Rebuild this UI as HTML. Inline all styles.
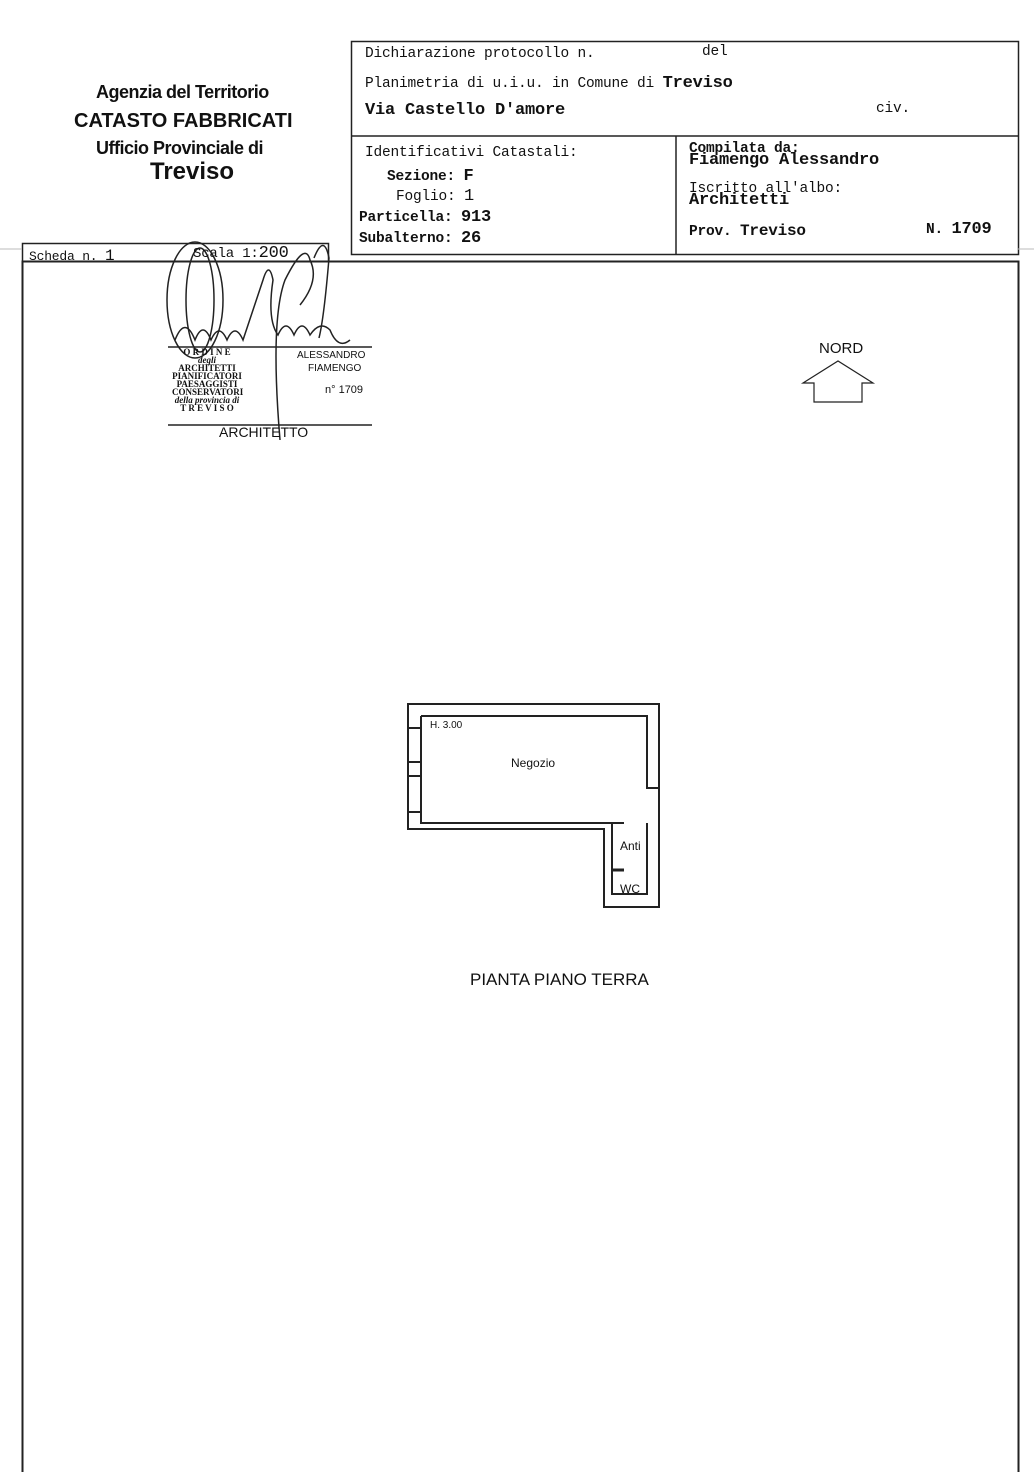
<!DOCTYPE html>
<html><head><meta charset="utf-8"><style>
body{margin:0;width:1034px;height:1472px;background:#fff;position:relative;overflow:hidden;font-family:"Liberation Sans",sans-serif;color:#111}
.m{font-family:"Liberation Mono",monospace;position:absolute;white-space:nowrap;font-size:14.5px;letter-spacing:-0.2px}
.s{position:absolute;white-space:nowrap}
</style></head><body>
<svg width="1034" height="1472" style="position:absolute;left:0;top:0">
<g fill="none" stroke="#222">
<rect x="351.5" y="41.5" width="667" height="213" stroke-width="1.5"/>
<line x1="351" y1="136" x2="1018" y2="136" stroke-width="1.5"/>
<line x1="676" y1="136" x2="676" y2="254" stroke-width="1.5"/>
<rect x="22.5" y="243.5" width="306" height="18" stroke-width="1.5"/>
<rect x="22.5" y="261.5" width="996" height="1220" stroke-width="2"/>
<line x1="0" y1="249" x2="22" y2="249" stroke="#bbb"/>
<line x1="1018" y1="249" x2="1034" y2="249" stroke="#bbb"/>
<polygon points="803,383 838,361 873,383 862,383 862,402 814,402 814,383" stroke-width="1.2"/>
<g stroke-width="1.5">
<ellipse cx="195" cy="300" rx="28" ry="58"/>
<ellipse cx="200" cy="300" rx="14" ry="52"/>
<path d="M175 340 q10-25 20 0 q8-20 16 0 q8-18 16 0 q8-18 16 0 q10-30 20-60 q6-20 10 0 q-6 40 5 55 q8-18 16 0 q8-18 16 0 q10-15 20-5 q8 20 20 10"/>
<path d="M280 440 q-10-120 5-160 q20-40 25-20 q10 20-10 45"/>
<path d="M314 258 q10-25 15 0 q-5 60-10 80"/>
</g>
<line x1="168" y1="347" x2="372" y2="347" stroke-width="1.5"/>
<line x1="168" y1="425" x2="372" y2="425" stroke-width="1.5"/>
<g stroke-width="2">
<path d="M408 704 H659 V907 H604 V829 H408 Z"/>
<path d="M421 716 H647 V788 H658"/>
<path d="M421 716 V823 H624"/>
<path d="M612 823 V894 H647 V823"/>
<line x1="612" y1="870" x2="624" y2="870" stroke-width="3"/>
<line x1="408" y1="728" x2="421" y2="728"/>
<line x1="408" y1="762" x2="421" y2="762"/>
<line x1="408" y1="776" x2="421" y2="776"/>
<line x1="408" y1="812" x2="421" y2="812"/>
</g>
</g>
</svg>
<div class="s" style="left:96px;top:82px;font-size:18px;font-weight:bold;letter-spacing:-0.5px">Agenzia del Territorio</div>
<div class="s" style="left:74px;top:110px;font-size:20px;font-weight:bold">CATASTO FABBRICATI</div>
<div class="s" style="left:96px;top:138px;font-size:18px;font-weight:bold;letter-spacing:-0.5px">Ufficio Provinciale di</div>
<div class="s" style="left:150px;top:158px;font-size:24px;font-weight:bold">Treviso</div>
<div class="m" style="left:365px;top:46px">Dichiarazione protocollo n.</div>
<div class="m" style="left:702px;top:44px">del</div>
<div class="m" style="left:365px;top:74px">Planimetria di u.i.u. in Comune di <b style="font-size:17px">Treviso</b></div>
<div class="m" style="left:365px;top:101px;font-size:17px;font-weight:bold">Via Castello D'amore</div>
<div class="m" style="left:876px;top:101px">civ.</div>
<div class="m" style="left:365px;top:145px">Identificativi Catastali:</div>
<div class="m" style="left:387px;top:167px;font-weight:bold">Sezione: <span style="font-size:17px">F</span></div>
<div class="m" style="left:396px;top:187px">Foglio: <span style="font-size:17px">1</span></div>
<div class="m" style="left:359px;top:208px;font-weight:bold">Particella: <span style="font-size:17px">913</span></div>
<div class="m" style="left:359px;top:229px;font-weight:bold">Subalterno: <span style="font-size:17px">26</span></div>
<div class="m" style="left:689px;top:141px;font-weight:bold">Compilata da:</div>
<div class="m" style="left:689px;top:151px;font-size:17px;font-weight:bold">Fiamengo Alessandro</div>
<div class="m" style="left:689px;top:181px">Iscritto all'albo:</div>
<div class="m" style="left:689px;top:191px;font-size:17px;font-weight:bold">Architetti</div>
<div class="m" style="left:689px;top:222px;font-weight:bold">Prov. <span style="font-size:16px">Treviso</span></div>
<div class="m" style="left:926px;top:220px;font-weight:bold">N. <span style="font-size:17px">1709</span></div>
<div class="m" style="left:29px;top:247px;font-size:13px">Scheda n. <span style="font-size:16px">1</span></div>
<div class="m" style="left:193px;top:244px;font-size:14px">Scala 1:<span style="font-size:17px">200</span></div>
<div class="s" style="left:172px;top:348px;font-size:9px;line-height:8px;font-family:'Liberation Serif',serif;font-weight:bold;text-align:center;width:70px">O R D I N E<br><i>degli</i><br>ARCHITETTI<br>PIANIFICATORI<br>PAESAGGISTI<br>CONSERVATORI<br><i>della provincia di</i><br>T R E V I S O</div>
<div class="s" style="left:297px;top:350px;font-size:10px">ALESSANDRO</div>
<div class="s" style="left:308px;top:363px;font-size:10px">FIAMENGO</div>
<div class="s" style="left:325px;top:384px;font-size:11px">n° 1709</div>
<div class="s" style="left:219px;top:424px;font-size:14px">ARCHITETTO</div>
<div class="s" style="left:819px;top:340px;font-size:15px">NORD</div>
<div class="s" style="left:430px;top:720px;font-size:10px">H. 3.00</div>
<div class="s" style="left:511px;top:756px;font-size:12px">Negozio</div>
<div class="s" style="left:620px;top:839px;font-size:12px">Anti</div>
<div class="s" style="left:620px;top:882px;font-size:12px">WC</div>
<div class="s" style="left:470px;top:970px;font-size:17px">PIANTA PIANO TERRA</div>
</body></html>
